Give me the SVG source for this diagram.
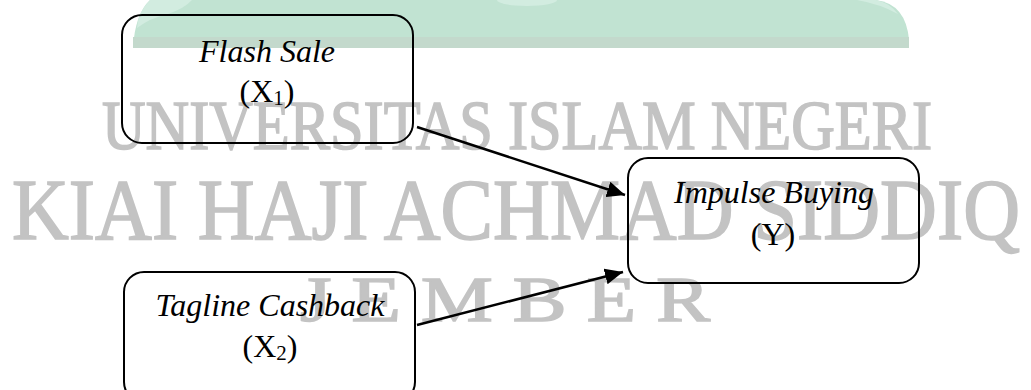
<svg xmlns="http://www.w3.org/2000/svg" width="1031" height="390" viewBox="0 0 1031 390">
<style>
.wm{font-family:"Liberation Serif","Times New Roman",serif;fill:#c3c3c3;stroke:#c3c3c3;stroke-width:1.6}
.box{fill:none;stroke:#000;stroke-width:2}
.lbl{font-family:"Liberation Serif","Times New Roman",serif;font-size:32px;fill:#000;text-anchor:middle}
.it{font-style:italic}
.sub{font-size:21px}
.edge{stroke:#000;stroke-width:2.5;fill:none}
</style>
<defs>
<marker id="arr" markerUnits="userSpaceOnUse" markerWidth="20" markerHeight="16" refX="18" refY="8" orient="auto">
<path d="M0,0 L18,8 L0,16 Z" fill="#000"/>
</marker>
</defs>
<rect width="1031" height="390" fill="#fff"/>
<g id="watermark">
<path d="M150,0 Q135,14 133,48 L909,48 L909,40 Q906,4 876,0 Z" fill="#c1e3d2"/>
<rect x="133" y="37" width="776" height="11" fill="#c3d9cc"/>
<path d="M150,0 Q138,12 137,28 Q150,18 168,14 Q185,8 192,0 Z" fill="#d2ece0"/>
<ellipse cx="527" cy="0" rx="30" ry="6" fill="#d2ece0"/>
<path d="M857,0 Q880,4 898,14 Q890,3 876,0 Z" fill="#d2ece0"/>
<text class="wm" x="102" y="149" font-size="69" textLength="830" lengthAdjust="spacingAndGlyphs">UNIVERSITAS ISLAM NEGERI</text>
<text class="wm" x="12" y="239" font-size="86" textLength="1008" lengthAdjust="spacingAndGlyphs">KIAI HAJI ACHMAD SIDDIQ</text>
<text class="wm" x="300" y="321" font-size="64" textLength="410" lengthAdjust="spacingAndGlyphs">J E M B E R</text>
</g>
<g id="connectors">
<line class="edge" x1="417" y1="127" x2="625" y2="195" marker-end="url(#arr)"/>
<line class="edge" x1="417" y1="325" x2="623" y2="272" marker-end="url(#arr)"/>
</g>
<g id="node-x1">
<rect class="box" x="122" y="15" width="291" height="128" rx="20"/>
<text class="lbl it" x="267" y="62">Flash Sale</text>
<text class="lbl" x="267" y="102">(X<tspan class="sub" dy="3">1</tspan><tspan dy="-3">)</tspan></text>
</g>
<g id="node-y">
<rect class="box" x="628" y="158" width="291" height="125" rx="20"/>
<text class="lbl it" x="774" y="203">Impulse Buying</text>
<text class="lbl" x="773" y="245">(Y)</text>
</g>
<g id="node-x2">
<rect class="box" x="124" y="272" width="291" height="130" rx="20"/>
<text class="lbl it" x="270" y="316">Tagline Cashback</text>
<text class="lbl" x="270" y="357">(X<tspan class="sub" dy="3">2</tspan><tspan dy="-3">)</tspan></text>
</g>
</svg>
